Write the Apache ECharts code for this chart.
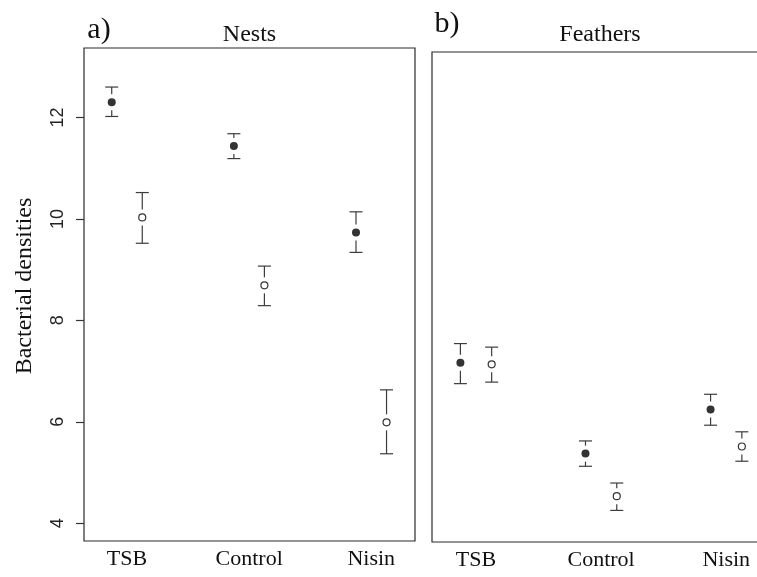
<!DOCTYPE html>
<html>
<head>
<meta charset="utf-8">
<script src="https://cdn.jsdelivr.net/npm/echarts@6/dist/echarts.min.js"></script>
<style>
	html, body { margin: 0; padding: 0; background: #fff; }
	.chart { width: 757px; height: 577px; }
</style>
</head>
<body>
<div class="chart"></div>
<script>
// 数据
var categories = ['TSB', 'Control', 'Nisin'];
var yTicks = [4, 6, 8, 10, 12];

// Nests (a)
var nestFilled = [12.30, 11.44, 9.73];
var nestFilledLo = [12.02, 11.19, 9.34];
var nestFilledHi = [12.60, 11.68, 10.14];
var nestOpen = [10.03, 8.69, 5.99];
var nestOpenLo = [9.52, 8.29, 5.37];
var nestOpenHi = [10.52, 9.07, 6.63];

// Feathers (b)
var featherFilled = [7.17, 5.38, 6.25];
var featherFilledLo = [6.76, 5.13, 5.94];
var featherFilledHi = [7.55, 5.63, 6.55];
var featherOpen = [7.14, 4.54, 5.52];
var featherOpenLo = [6.79, 4.26, 5.23];
var featherOpenHi = [7.48, 4.80, 5.81];

(function () {
	var myChart = echarts.init(document.querySelector('.chart'));
	var serif = '"Liberation Serif", "DejaVu Serif", serif';
	var sans = '"Liberation Sans", Arial, sans-serif';
	var openShift = 0.25;
	var labelPos = categories.map(function (c, i) { return i + 1 + openShift / 2; });

	function points(vals, shift) {
		return vals.map(function (v, i) { return [i + 1 + shift, v]; });
	}
	function bars(mid, lo, hi, shift) {
		return mid.map(function (v, i) { return [i + 1 + shift, lo[i], hi[i], v]; });
	}

	function renderBar(params, api) {
		var x = api.value(0);
		var lo = api.coord([x, api.value(1)]);
		var hi = api.coord([x, api.value(2)]);
		var mid = api.coord([x, api.value(3)]);
		var cap = 6.5;
		var gap = 8;
		var style = { stroke: '#3c3c3c', lineWidth: 1.2 };
		var children = [
			{ type: 'line', shape: { x1: hi[0] - cap, y1: hi[1], x2: hi[0] + cap, y2: hi[1] }, style: style },
			{ type: 'line', shape: { x1: lo[0] - cap, y1: lo[1], x2: lo[0] + cap, y2: lo[1] }, style: style }
		];
		if (mid[1] - gap > hi[1]) {
			children.push({ type: 'line', shape: { x1: hi[0], y1: hi[1], x2: hi[0], y2: mid[1] - gap }, style: style });
		}
		if (mid[1] + gap < lo[1]) {
			children.push({ type: 'line', shape: { x1: lo[0], y1: mid[1] + gap, x2: lo[0], y2: lo[1] }, style: style });
		}
		return { type: 'group', children: children };
	}

	function xAxis(idx) {
		return {
			type: 'value',
			gridIndex: idx,
			min: 0.773,
			max: 3.483,
			axisLine: { show: false },
			axisTick: { show: false },
			splitLine: { show: false },
			axisLabel: {
				customValues: labelPos,
				formatter: function (v) {
					return categories[Math.round(v - 1 - openShift / 2)];
				},
				fontFamily: serif,
				fontSize: 22,
				color: '#111',
				margin: 7
			}
		};
	}

	var filledStyle = { color: '#000' };
	var openStyle = { color: '#fff', borderColor: '#000', borderWidth: 1.2 };

	var option = {
		animation: false,
		backgroundColor: '#fff',
		grid: [
			{ left: 84, top: 48, width: 331, height: 493, outerBoundsMode: 'none', show: true, borderColor: '#2a2a2a', borderWidth: 1.2 },
			{ left: 432, top: 52, width: 339, height: 490, outerBoundsMode: 'none', show: true, borderColor: '#2a2a2a', borderWidth: 1.2 }
		],
		xAxis: [xAxis(0), xAxis(1)],
		yAxis: [
			{
				type: 'value',
				gridIndex: 0,
				min: 3.65,
				max: 13.37,
				axisLine: { show: false },
				splitLine: { show: false },
				axisTick: {
					show: true,
					customValues: yTicks,
					length: 8,
					lineStyle: { color: '#333', width: 1.2 }
				},
				axisLabel: {
					customValues: yTicks,
					rotate: 90,
					fontFamily: sans,
					fontSize: 18,
					color: '#222',
					margin: 17
				}
			},
			{
				type: 'value',
				gridIndex: 1,
				min: 3.637,
				max: 13.30,
				axisLine: { show: false },
				axisTick: { show: false },
				axisLabel: { show: false },
				splitLine: { show: false }
			}
		],
		graphic: [
			{ type: 'text', x: 99, y: 30, style: { text: 'a)', font: '30px ' + serif, fill: '#111', textAlign: 'center', textVerticalAlign: 'middle' } },
			{ type: 'text', x: 249.5, y: 35, style: { text: 'Nests', font: '24px ' + serif, fill: '#111', textAlign: 'center', textVerticalAlign: 'middle' } },
			{ type: 'text', x: 447, y: 24, style: { text: 'b)', font: '30px ' + serif, fill: '#111', textAlign: 'center', textVerticalAlign: 'middle' } },
			{ type: 'text', x: 600, y: 35, style: { text: 'Feathers', font: '24px ' + serif, fill: '#111', textAlign: 'center', textVerticalAlign: 'middle' } },
			{ type: 'text', x: 25, y: 286, rotation: Math.PI / 2, style: { text: 'Bacterial densities', font: '24px ' + serif, fill: '#111', textAlign: 'center', textVerticalAlign: 'middle' } }
		],
		series: [
			{ type: 'custom', xAxisIndex: 0, yAxisIndex: 0, renderItem: renderBar, data: bars(nestFilled, nestFilledLo, nestFilledHi, 0) },
			{ type: 'custom', xAxisIndex: 0, yAxisIndex: 0, renderItem: renderBar, data: bars(nestOpen, nestOpenLo, nestOpenHi, openShift) },
			{ type: 'custom', xAxisIndex: 1, yAxisIndex: 1, renderItem: renderBar, data: bars(featherFilled, featherFilledLo, featherFilledHi, 0) },
			{ type: 'custom', xAxisIndex: 1, yAxisIndex: 1, renderItem: renderBar, data: bars(featherOpen, featherOpenLo, featherOpenHi, openShift) },
			{ type: 'scatter', xAxisIndex: 0, yAxisIndex: 0, symbol: 'circle', symbolSize: 8, itemStyle: filledStyle, data: points(nestFilled, 0) },
			{ type: 'scatter', xAxisIndex: 0, yAxisIndex: 0, symbol: 'circle', symbolSize: 7, itemStyle: openStyle, data: points(nestOpen, openShift) },
			{ type: 'scatter', xAxisIndex: 1, yAxisIndex: 1, symbol: 'circle', symbolSize: 8, itemStyle: filledStyle, data: points(featherFilled, 0) },
			{ type: 'scatter', xAxisIndex: 1, yAxisIndex: 1, symbol: 'circle', symbolSize: 7, itemStyle: openStyle, data: points(featherOpen, openShift) }
		]
	};
	myChart.setOption(option);
	window.addEventListener('resize', function () {
		myChart.resize();
	});
})();
</script>
</body>
</html>
